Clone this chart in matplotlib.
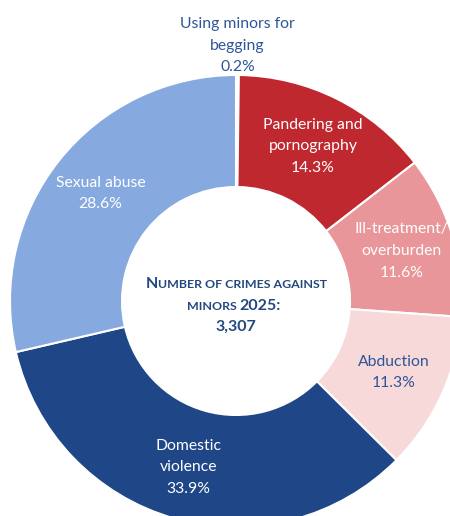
import matplotlib
matplotlib.use('Agg')
import matplotlib.pyplot as plt
import numpy as np

# crimes against minors 2025, share of each type in %
categories = ['Using minors for\nbegging', 'Pandering and\npornography',
              'Ill-treatment/\noverburden', 'Abduction',
              'Domestic\nviolence', 'Sexual abuse']
shares = [0.2, 14.3, 11.6, 11.3, 33.9, 28.6]
colors = ['#FFFFFF', '#C0282F', '#E8969A', '#F7D9DA', '#1F4788', '#86A9E0']
label_colors = ['#2E5597', 'white', 'white', '#2E5597', 'white', 'white']
total_crimes = 3307
year = 2025

plt.rcParams['font.family'] = ['Lato', 'DejaVu Sans']
dark_blue = '#23487F'

fig = plt.figure(figsize=(4.5, 5.16), dpi=100)
ax = fig.add_axes([0, 0, 1, 1])

cx, cy, R = 236, 215, 226
wedges, _ = ax.pie(shares, colors=colors, startangle=90, counterclock=False,
                   center=(cx, cy), radius=R,
                   wedgeprops=dict(width=112, edgecolor='white', linewidth=1.5))
ax.set_xlim(0, 450)
ax.set_ylim(0, 516)
ax.set_aspect('equal')
ax.axis('off')

for i, w in enumerate(wedges):
    mid = np.deg2rad((w.theta1 + w.theta2) / 2)
    r = R * (1.13 if i == 0 else 0.765)
    ax.text(cx + r * np.cos(mid), cy + r * np.sin(mid),
            f'{categories[i]}\n{shares[i]:.1f}%',
            ha='center', va='center', fontsize=11.3, color=label_colors[i],
            linespacing=1.7)

# centre text in small caps
renderer = fig.canvas.get_renderer()


def smallcaps_line(y, parts):
    objs = []
    for txt, size in parts:
        objs.append(ax.text(0, y, txt, fontsize=size, fontweight='bold',
                            color=dark_blue, ha='left', va='baseline'))
    widths = [o.get_window_extent(renderer).width for o in objs]
    gap = 3
    total = sum(widths) + gap * sum(1 for t, s in parts if t.startswith(' '))
    x = cx - total / 2
    for (txt, size), o, wd in zip(parts, objs, widths):
        if txt.startswith(' '):
            x += gap
            o.set_text(txt.strip())
            wd = o.get_window_extent(renderer).width
        o.set_x(x)
        x += wd


smallcaps_line(228, [('N', 11.5), ('UMBER OF CRIMES AGAINST', 8.9)])
smallcaps_line(206, [('MINORS', 8.9), (f' {year}:', 11.5)])
smallcaps_line(185, [(f'{total_crimes:,}', 11.5)])

fig.savefig('out.png', dpi=100)
